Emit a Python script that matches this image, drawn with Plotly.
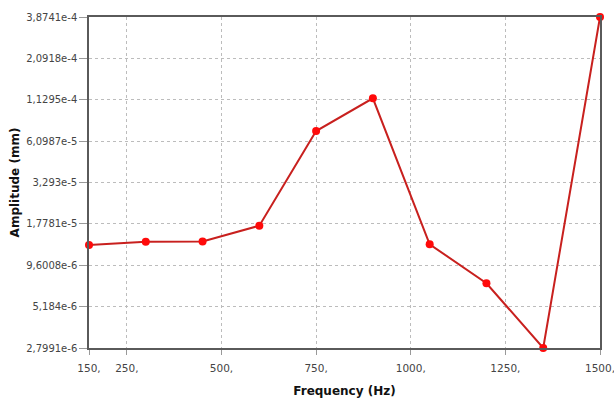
import plotly.graph_objects as go
import math

freq = [150, 300, 450, 600, 750, 900, 1050, 1200, 1350, 1500]
amplitude = [1.298e-5, 1.364e-5, 1.37e-5, 1.73e-5, 7.09e-5, 1.154e-4, 1.312e-5, 7.34e-6, 2.7991e-6, 3.8741e-4]

x_tickvals = [150, 250, 500, 750, 1000, 1250, 1500]
x_ticktext = ["150,", "250,", "500,", "750,", "1000,", "1250,", "1500,"]
y_tickvals = [2.7991e-6, 5.184e-6, 9.6008e-6, 1.7781e-5, 3.293e-5, 6.0987e-5, 1.1295e-4, 2.0918e-4, 3.8741e-4]
y_ticktext = ["2,7991e-6", "5,184e-6", "9,6008e-6", "1,7781e-5", "3,293e-5", "6,0987e-5", "1,1295e-4", "2,0918e-4", "3,8741e-4"]

fig = go.Figure()
fig.add_trace(go.Scatter(
    x=freq, y=amplitude, mode="lines+markers",
    line=dict(color="#c8201e", width=2),
    marker=dict(color="#ff0a0a", size=8),
    cliponaxis=False,
))

eps = 1e-6
font_fam = "DejaVu Sans, Verdana, sans-serif"
fig.update_layout(
    width=614, height=402,
    margin=dict(l=89, r=14, t=17, b=54),
    paper_bgcolor="white", plot_bgcolor="white",
    showlegend=False,
    font=dict(family=font_fam, size=10, color="#444444"),
)
fig.update_xaxes(
    range=[150 - 0.001, 1500 + 0.001], tickvals=x_tickvals, ticktext=x_ticktext,
    showgrid=True, gridcolor="#bcbcbc", griddash="3px,3px", gridwidth=1,
    showline=True, linecolor="#5a5a5a", linewidth=1.5, mirror=True,
    ticks="outside", ticklen=5, tickcolor="#999999",
    tickfont=dict(size=10.5, color="#444444"),
    ticklabelstandoff=5,
    ticklabeloverflow="allow", automargin=False,
    title=dict(text="<b>Frequency (Hz)</b>", font=dict(size=12, color="#111111"), standoff=13),
    zeroline=False,
)
fig.update_yaxes(
    type="log", range=[math.log10(2.7991e-6) - eps, math.log10(3.8741e-4) + eps],
    tickvals=y_tickvals, ticktext=y_ticktext,
    showgrid=True, gridcolor="#bcbcbc", griddash="3px,3px", gridwidth=1,
    showline=True, linecolor="#5a5a5a", linewidth=1.5, mirror=True,
    ticks="outside", ticklen=8, tickcolor="#999999",
    tickfont=dict(size=10, color="#444444"),
    automargin=False,
    title=dict(text="<b>Amplitude (mm)</b>", font=dict(size=12, color="#111111"), standoff=4),
    zeroline=False,
)

fig.write_html("out.html", config={"displayModeBar": False})
